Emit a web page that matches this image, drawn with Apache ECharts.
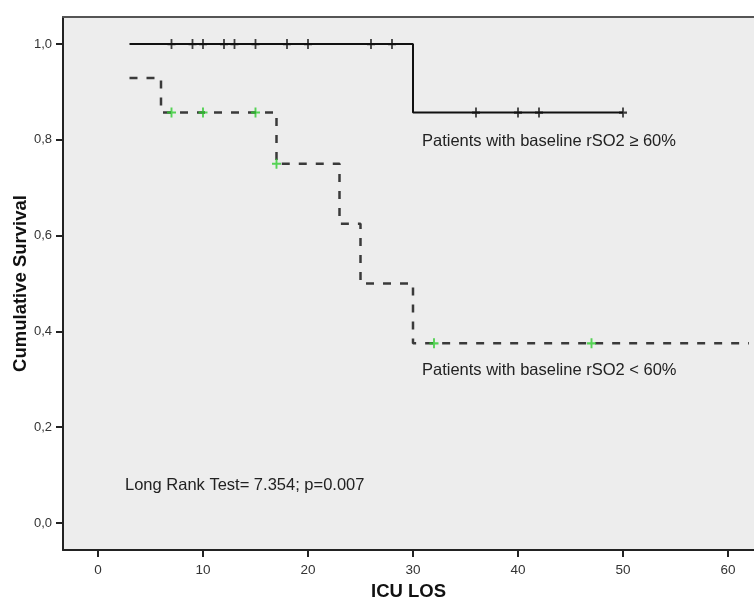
<!DOCTYPE html>
<html>
<head>
<meta charset="utf-8">
<script src="https://cdn.jsdelivr.net/npm/echarts@6/dist/echarts.min.js"></script>
<style>
	html,body{margin:0;padding:0;background:#fff;}
	#main{width:754px;height:600px;}
</style>
</head>
<body>
<div id="main"></div>
<script>
var xTicks = [0, 10, 20, 30, 40, 50, 60];
var yTicks = [0, 0.2, 0.4, 0.6, 0.8, 1.0];

// rSO2 >= 60%
var highTimes = [3, 30, 50];
var highSurv = [1.0, 0.857, 0.857];
var highCensorTimes = [7, 9, 10, 12, 13, 15, 18, 20, 26, 28, 36, 40, 42, 50];
var highCensorSurv = [1, 1, 1, 1, 1, 1, 1, 1, 1, 1, 0.857, 0.857, 0.857, 0.857];

// rSO2 < 60%
var lowTimes = [3, 6, 17, 23, 25, 30, 62];
var lowSurv = [0.929, 0.857, 0.75, 0.625, 0.5, 0.375, 0.375];
var lowCensorTimes = [7, 10, 15, 17, 32, 47];
var lowCensorSurv = [0.857, 0.857, 0.857, 0.75, 0.375, 0.375];

var font = "'Liberation Sans', Arial, sans-serif";
var plus = 'path://M5,0L5,10M1,5L9,5';

function pairs(xs, ys){
	var out = [];
	for (var i = 0; i < xs.length; i++) {
		out.push([xs[i], ys[i]]);
	}
	return out;
}

var myChart = echarts.init(document.getElementById('main'));

var option = {
	animation: false,
	grid: {
		left: 63, top: 17, right: 0, bottom: 50,
		outerBoundsMode: 'none',
		containLabel: false,
		show: true,
		backgroundColor: '#ededed',
		borderWidth: 0
	},
	xAxis: [
		{
			type: 'value',
			min: -3.333,
			max: 62.476,
			name: 'ICU LOS',
			nameLocation: 'middle',
			nameGap: 32,
			nameMoveOverlap: false,
			nameTextStyle: {fontFamily: font, fontSize: 18.5, fontWeight: 'bold', color: '#111'},
			splitLine: {show: false},
			axisLine: {onZero: false, lineStyle: {color: '#222', width: 2}},
			axisTick: {customValues: xTicks, length: 7, lineStyle: {color: '#222', width: 2}},
			axisLabel: {customValues: xTicks, margin: 13, fontFamily: font, fontSize: 13.5, color: '#333'}
		},
		{
			// top frame line only
			type: 'value',
			position: 'top',
			min: -3.333,
			max: 62.476,
			splitLine: {show: false},
			axisLine: {onZero: false, lineStyle: {color: '#555', width: 2}},
			axisTick: {show: false},
			axisLabel: {show: false}
		}
	],
	yAxis: {
		type: 'value',
		min: -0.0564,
		max: 1.0564,
		name: 'Cumulative Survival',
		nameLocation: 'middle',
		nameGap: 33,
		nameMoveOverlap: false,
		nameTextStyle: {fontFamily: font, fontSize: 18.5, fontWeight: 'bold', color: '#111'},
		splitLine: {show: false},
		axisLine: {show: true, onZero: false, lineStyle: {color: '#222', width: 2}},
		axisTick: {show: true, customValues: yTicks, length: 7, lineStyle: {color: '#222', width: 2}},
		axisLabel: {
			customValues: yTicks, margin: 11, fontFamily: font, fontSize: 13, color: '#333',
			formatter: function (v) { return v.toFixed(1).replace('.', ','); }
		}
	},
	series: [
		{
			type: 'line',
			step: 'end',
			data: pairs(highTimes, highSurv),
			symbol: 'none',
			lineStyle: {color: '#111', width: 2}
		},
		{
			type: 'line',
			step: 'end',
			data: pairs(lowTimes, lowSurv),
			symbol: 'none',
			lineStyle: {color: '#3a3a3a', width: 2.5, type: [8, 9]}
		},
		{
			type: 'scatter',
			data: pairs(highCensorTimes, highCensorSurv),
			symbol: plus,
			symbolSize: [8, 10],
			itemStyle: {color: 'none', borderColor: '#111', borderWidth: 2},
			z: 5
		},
		{
			type: 'scatter',
			data: pairs(lowCensorTimes, lowCensorSurv),
			symbol: plus,
			symbolSize: [9, 10],
			itemStyle: {color: 'none', borderColor: '#2ecc2e', borderWidth: 2},
			z: 5
		}
	],
	graphic: [
		{
			type: 'text', left: 422, top: 133,
			style: {text: 'Patients with baseline rSO2 \u2265 60%', font: '16.5px ' + font, fill: '#222'}
		},
		{
			type: 'text', left: 422, top: 362,
			style: {text: 'Patients with baseline rSO2 < 60%', font: '16.5px ' + font, fill: '#222'}
		},
		{
			type: 'text', left: 125, top: 477,
			style: {text: 'Long Rank Test= 7.354; p=0.007', font: '16.5px ' + font, fill: '#222'}
		}
	]
};

myChart.setOption(option);
</script>
</body>
</html>
